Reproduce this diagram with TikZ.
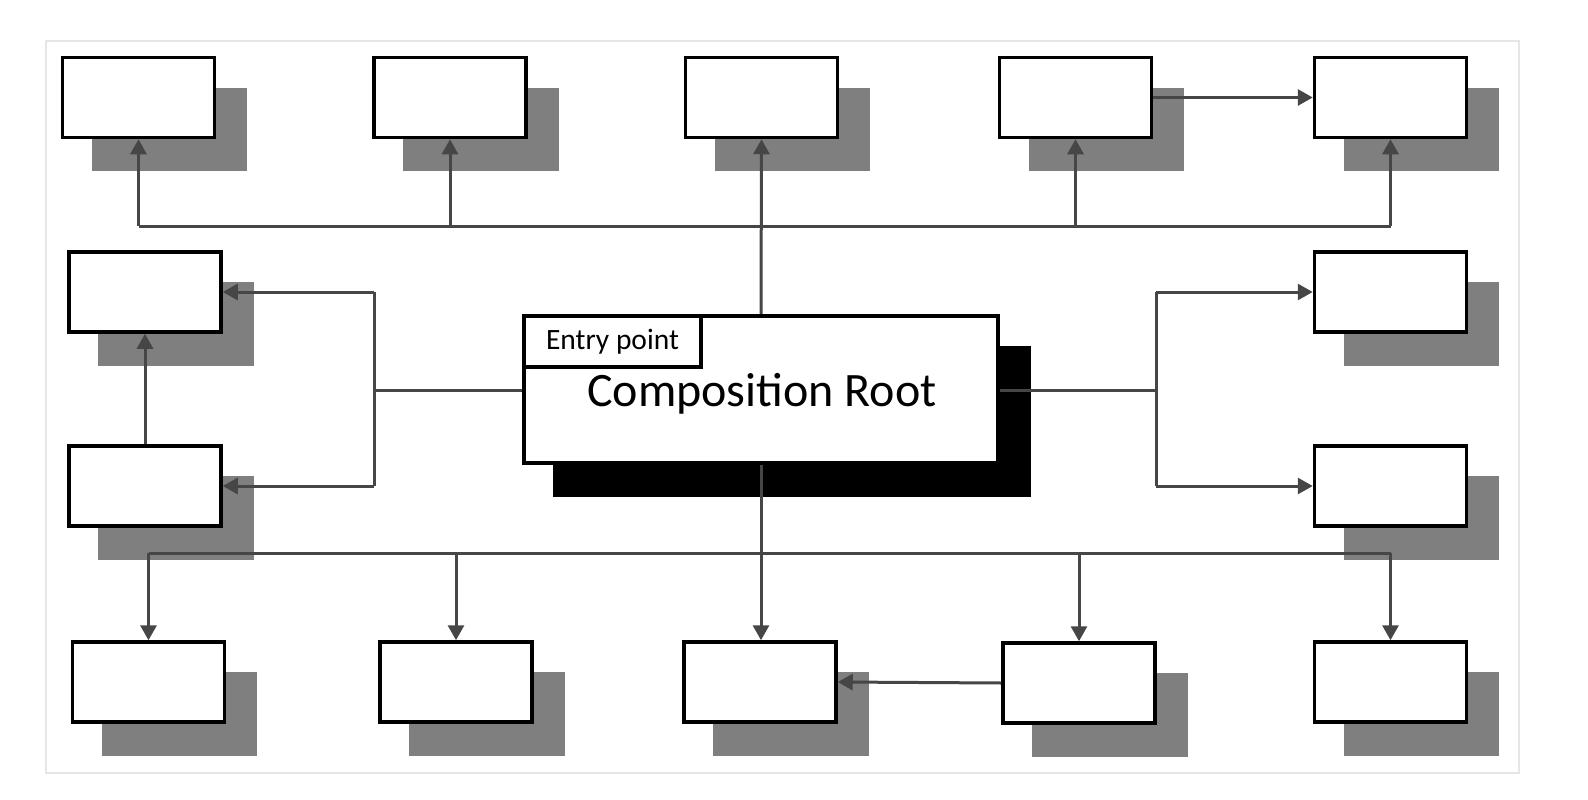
\documentclass[tikz,border=0pt]{standalone}
\usepackage{fontspec}
\setmainfont{Carlito}
\usetikzlibrary{arrows.meta}
\pgfdeclarelayer{shadowlayer}
\pgfdeclarelayer{connlayer}
\pgfsetlayers{shadowlayer,connlayer,main}
\definecolor{conncol}{HTML}{464646}
\definecolor{shadegray}{HTML}{7F7F7F}
\definecolor{framegray}{HTML}{E6E6E6}
\tikzset{
  x=1pt, y=-1pt,
  compbox/.style={draw=black, fill=white, line width=3.5pt, minimum width=152pt, minimum height=80pt, inner sep=0pt},
  conn/.style={draw=conncol, line width=3pt},
  arr/.style={conn, -{Triangle[width=16pt,length=15pt]}},
}
\newcommand{\dropshadow}[2][shadegray]{%
  \fill[#1] ([shift={(31,32)}]#2.north west) rectangle ([shift={(31,32)}]#2.south east);}
\begin{document}
\begin{tikzpicture}
\useasboundingbox (0,0) rectangle (1588,800);
\draw[framegray, line width=1.5pt] (46,41) rectangle (1519,773);
% nodes
\node[compbox] (t1) at (138.5,97.5) {};
\node[compbox] (t2) at (450,97.5) {};
\node[compbox] (t3) at (761.5,97.5) {};
\node[compbox] (t4) at (1075.5,97.5) {};
\node[compbox] (t5) at (1390.5,97.5) {};
\node[compbox] (l1) at (145,292) {};
\node[compbox] (l2) at (145,486) {};
\node[compbox] (r1) at (1390.5,292) {};
\node[compbox] (r2) at (1390.5,486) {};
\node[compbox] (b1) at (148.5,682) {};
\node[compbox] (b2) at (456,682) {};
\node[compbox] (b3) at (760,682) {};
\node[compbox] (b4) at (1079,683) {};
\node[compbox] (b5) at (1390.5,682) {};
\node[compbox, minimum width=474pt, minimum height=147pt] (root) at (761,389.5) {};
\node[inner sep=0pt, font=\fontsize{48}{54}\selectfont] (roottext) at (762,394) {Composition Root};
\node[compbox, minimum width=177pt, minimum height=51pt, font=\fontsize{29.5}{34}\selectfont] (entry) at (612.5,341.5) {Entry point};
% shadows
\begin{pgfonlayer}{shadowlayer}
\foreach \n in {t1,t2,t3,t4,t5,l1,l2,r1,r2,b1,b2,b3,b4,b5} {\dropshadow{\n}}
\dropshadow[black]{root}
\end{pgfonlayer}
% connectors
\begin{pgfonlayer}{connlayer}
\coordinate (topbus) at (761,226);
\coordinate (botbus) at (761,553);
\coordinate (leftbus) at (374,390);
\coordinate (rightbus) at (1156,390);
% top
\draw[conn] (t1.south |- topbus) -- (t5.south |- topbus);
\draw[arr] (root.north) -- (t3.south);
\foreach \n in {t1,t2,t4,t5} {\draw[arr] (\n.south |- topbus) -- (\n.south);}
\draw[arr] (t4.east) -- (t5.west);
% left
\draw[conn] (root.west |- leftbus) -- (leftbus);
\draw[conn] (leftbus |- l1.east) -- (leftbus |- l2.east);
\draw[arr] (leftbus |- l1.east) -- (l1.east);
\draw[arr] (leftbus |- l2.east) -- (l2.east);
\draw[arr] (l2.north) -- (l1.south);
% right
\draw[conn] (root.east |- rightbus) -- (rightbus);
\draw[conn] (rightbus |- r1.west) -- (rightbus |- r2.west);
\draw[arr] (rightbus |- r1.west) -- (r1.west);
\draw[arr] (rightbus |- r2.west) -- (r2.west);
% bottom
\draw[conn] (b1.north |- botbus) -- (b5.north |- botbus);
\draw[arr] (root.south) -- (root.south |- b3.north);
\foreach \n in {b1,b2,b4,b5} {\draw[arr] (\n.north |- botbus) -- (\n.north);}
\draw[arr] (b4.west) -- (b3.east);
\end{pgfonlayer}
\end{tikzpicture}
\end{document}
